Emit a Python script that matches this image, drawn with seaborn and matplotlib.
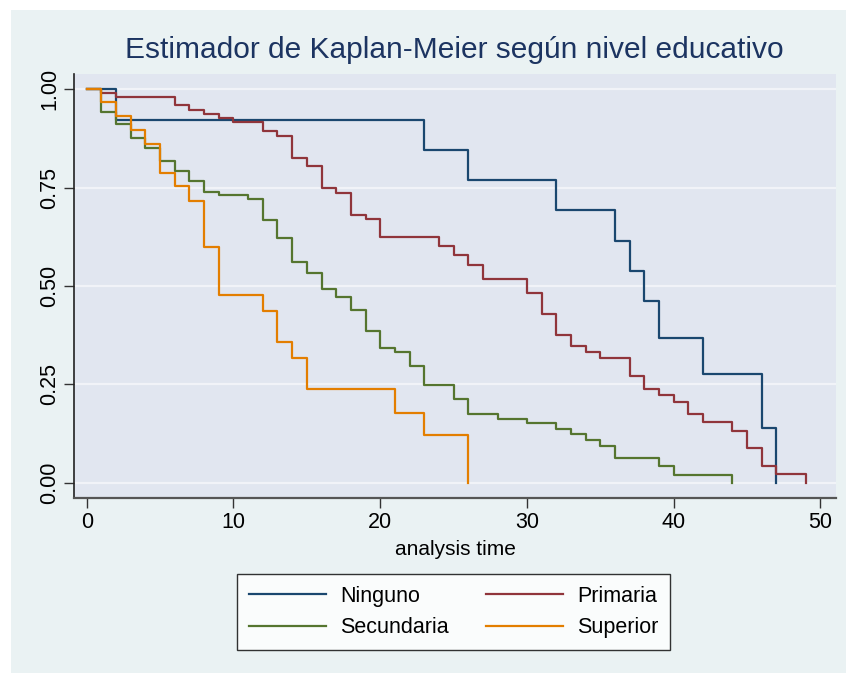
import numpy as np
import pandas as pd
import matplotlib
matplotlib.use("Agg")
import matplotlib.pyplot as plt
from matplotlib.patches import Rectangle
import seaborn as sns

# ---- data ----
groups = ["Ninguno", "Primaria", "Secundaria", "Superior"]

t_ninguno = [0, 2, 23, 26, 32, 36, 37, 38, 39, 42, 46, 47]
s_ninguno = [1.0, 0.923, 0.846, 0.769, 0.692, 0.615, 0.538, 0.462, 0.369, 0.277, 0.138, 0.0]

t_primaria = [0, 1, 2, 6, 7, 8, 9, 10, 12, 13, 14, 15, 16, 17, 18, 19, 20, 24, 25, 26,
              27, 30, 31, 32, 33, 34, 35, 37, 38, 39, 40, 41, 42, 44, 45, 46, 47, 49]
s_primaria = [1.0, 0.990, 0.980, 0.959, 0.948, 0.938, 0.927, 0.916, 0.894, 0.882, 0.826,
              0.804, 0.748, 0.737, 0.681, 0.670, 0.625, 0.602, 0.578, 0.554, 0.517, 0.481,
              0.429, 0.376, 0.348, 0.333, 0.317, 0.270, 0.238, 0.222, 0.206, 0.175, 0.154,
              0.132, 0.087, 0.043, 0.021, 0.0]

t_secundaria = [0, 1, 2, 3, 4, 5, 6, 7, 8, 9, 11, 12, 13, 14, 15, 16, 17, 18, 19, 20, 21,
                22, 23, 25, 26, 28, 30, 32, 33, 34, 35, 36, 39, 40, 44]
s_secundaria = [1.0, 0.943, 0.911, 0.877, 0.852, 0.818, 0.793, 0.766, 0.740, 0.731, 0.722,
                0.668, 0.621, 0.562, 0.532, 0.492, 0.471, 0.439, 0.386, 0.343, 0.332, 0.297,
                0.249, 0.212, 0.175, 0.162, 0.151, 0.137, 0.123, 0.109, 0.094, 0.062, 0.042,
                0.020, 0.0]

t_superior = [0, 1, 2, 3, 4, 5, 6, 7, 8, 9, 12, 13, 14, 15, 21, 23, 26]
s_superior = [1.0, 0.968, 0.933, 0.897, 0.861, 0.788, 0.753, 0.717, 0.598, 0.478, 0.437,
              0.358, 0.318, 0.239, 0.178, 0.120, 0.0]

x_ticks = [0, 10, 20, 30, 40, 50]
y_ticks = [0.0, 0.25, 0.50, 0.75, 1.0]
y_ticklabels = ["0.00", "0.25", "0.50", "0.75", "1.00"]

title = "Estimador de Kaplan-Meier según nivel educativo"
xlabel = "analysis time"

colors = ["#1a476f", "#90353b", "#55752f", "#e37e00"]

frames = []
for g, t, s in zip(groups,
                   [t_ninguno, t_primaria, t_secundaria, t_superior],
                   [s_ninguno, s_primaria, s_secundaria, s_superior]):
    frames.append(pd.DataFrame({"time": t, "surv": s, "grupo": g}))
df = pd.concat(frames, ignore_index=True)

# ---- figure ----
W, H = 846, 673
fig = plt.figure(figsize=(W / 100, H / 100), dpi=100)
fig.patch.set_facecolor("white")
fig.patches.append(Rectangle((11 / W, 0), 1 - 11 / W, 1 - 10 / H,
                             transform=fig.transFigure, facecolor="#eaf2f3",
                             edgecolor="none", zorder=-10))

L, T, R, B = 74, 74, 836, 498
ax = fig.add_axes([L / W, 1 - B / H, (R - L) / W, (B - T) / H])
ax.set_facecolor("#e1e6f0")

font = "Liberation Sans"
plt.rcParams["font.family"] = [font, "DejaVu Sans"]

sns.lineplot(data=df, x="time", y="surv", hue="grupo", hue_order=groups,
             palette=colors, drawstyle="steps-post", estimator=None,
             linewidth=1.6, ax=ax, legend=True)

handles, labels = ax.get_legend_handles_labels()
ax.get_legend().remove()

ax.set_xlim(-0.866, 51.06)
ax.set_ylim(-0.039, 1.039)
ax.set_xticks(x_ticks)
ax.set_xticklabels([str(v) for v in x_ticks], fontsize=15.5, family=font)
ax.set_yticks(y_ticks)
ax.set_yticklabels(y_ticklabels, fontsize=15.5, family=font, rotation=90, va="center")
ax.tick_params(axis="both", direction="out", length=7, width=1.0, color="#333333",
               pad=3)
ax.grid(axis="y", color="#f1f3f8", linewidth=1.6)
ax.grid(axis="x", visible=False)
ax.set_axisbelow(True)
for side in ["top", "right"]:
    ax.spines[side].set_visible(False)
ax.spines["left"].set_color("#222222")
ax.spines["left"].set_linewidth(1.2)
ax.spines["bottom"].set_color("#555555")
ax.spines["bottom"].set_linewidth(1.6)

ax.set_xlabel(xlabel, fontsize=15, family=font, labelpad=5)
ax.set_ylabel("")

fig.text(454 / W, 1 - 50 / H, title, fontsize=21.5, family=font, color="#1c3461",
         ha="center", va="center")

order = [0, 2, 1, 3]
h2 = [handles[i] for i in order]
l2 = [labels[i] for i in order]
leg = fig.legend(h2, l2, loc="center", bbox_to_anchor=(453.7 / W, 1 - 612 / H),
                 ncol=2, frameon=True, fancybox=False, prop={"family": font, "size": 15.5},
                 handlelength=3.6, handletextpad=0.65, columnspacing=1.7,
                 borderpad=0.55, labelspacing=0.5)
leg.get_frame().set_edgecolor("black")
leg.get_frame().set_linewidth(1.0)
leg.get_frame().set_facecolor("white")
for line in leg.get_lines():
    line.set_linewidth(1.6)

fig.savefig("out.png", dpi=100, facecolor=fig.get_facecolor())
